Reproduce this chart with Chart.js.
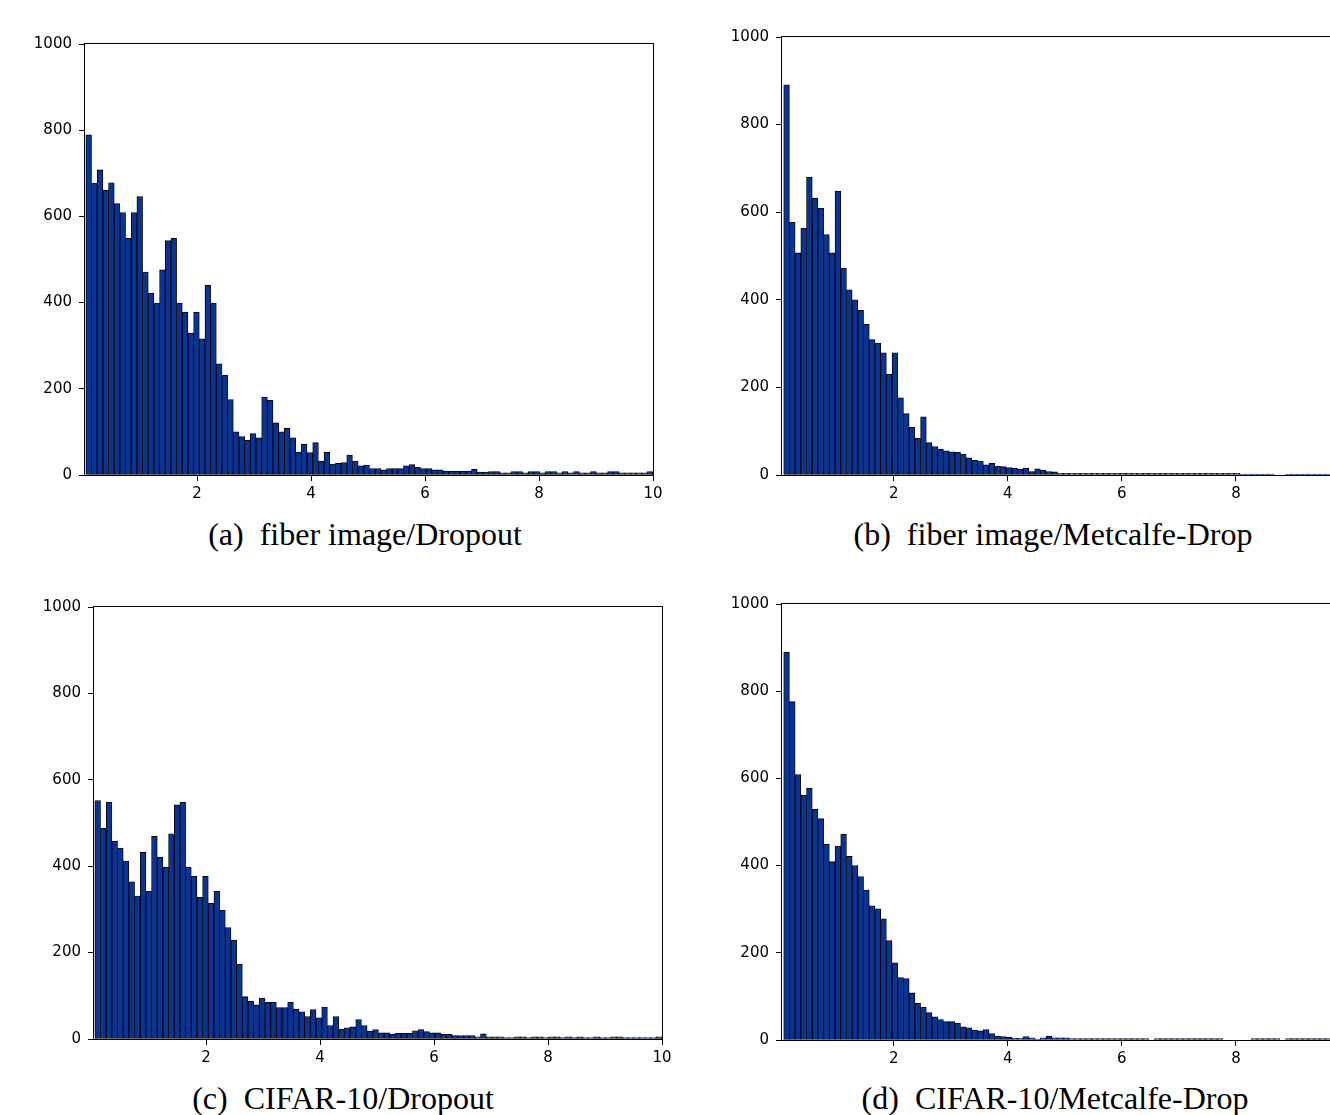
<!DOCTYPE html>
<html>
<head>
<meta charset="utf-8">
<script src="https://cdn.jsdelivr.net/npm/chart.js@4.4.1/dist/chart.umd.min.js"></script>
<style>
  html, body { margin: 0; padding: 0; background: #fff; overflow: hidden; }
  body { width: 1330px; height: 1115px; position: relative; }
  canvas { position: absolute; }
  .caption {
    position: absolute; width: 600px; text-align: center;
    font-family: "Liberation Serif", "Times New Roman", serif;
    font-size: 32px; line-height: 32px; color: #000; white-space: pre;
  }
</style>
</head>
<body>
<div class="caption" style="left:65px; top:518px;">(a)  fiber image/Dropout</div>
<div class="caption" style="left:753px; top:518px;">(b)  fiber image/Metcalfe-Drop</div>
<div class="caption" style="left:43px; top:1082px;">(c)  CIFAR-10/Dropout</div>
<div class="caption" style="left:755px; top:1082px;">(d)  CIFAR-10/Metcalfe-Drop</div>
<script>
// histogram counts, 100 bins each
const fiberDropout = [
  789, 677, 708, 661, 678, 630, 609, 549, 609, 646,
  471, 422, 399, 476, 544, 549, 399, 378, 329, 378,
  316, 440, 399, 258, 231, 175, 100, 89, 81, 96,
  86, 181, 173, 121, 100, 108, 86, 53, 71, 52,
  75, 32, 53, 25, 27, 29, 46, 32, 21, 23,
  15, 15, 12, 15, 15, 15, 21, 24, 18, 15,
  15, 12, 12, 9, 9, 9, 9, 9, 13, 7,
  7, 8, 8, 5, 5, 8, 8, 5, 8, 8,
  5, 8, 8, 5, 8, 5, 8, 5, 5, 8,
  5, 5, 8, 8, 5, 5, 5, 5, 5, 8
];
const fiberMetcalfe = [
  891, 577, 507, 563, 680, 632, 609, 549, 507, 648,
  472, 423, 400, 376, 344, 309, 301, 279, 230, 279,
  176, 140, 109, 84, 133, 74, 65, 59, 55, 53,
  52, 48, 39, 34, 32, 23, 27, 20, 19, 17,
  15, 13, 16, 8, 14, 11, 8, 7, 4, 4,
  4, 4, 4, 4, 4, 4, 4, 4, 4, 4,
  4, 4, 4, 4, 4, 4, 4, 4, 4, 4,
  4, 4, 4, 4, 4, 4, 4, 4, 4, 4,
  2, 2, 2, 2, 2, 2, 0, 0, 2, 2,
  2, 2, 2, 2, 2, 2, 2, 2, 2, 2
];
const cifarDropout = [
  552, 488, 548, 458, 442, 412, 364, 331, 432, 342,
  469, 421, 398, 475, 542, 548, 398, 377, 328, 377,
  314, 342, 298, 258, 229, 173, 98, 87, 79, 95,
  85, 85, 73, 73, 85, 69, 63, 52, 68, 49,
  74, 31, 52, 23, 26, 28, 45, 31, 18, 22,
  14, 14, 11, 13, 13, 13, 19, 22, 17, 14,
  14, 11, 11, 8, 8, 8, 8, 5, 12, 5,
  5, 5, 3, 3, 5, 5, 3, 5, 5, 3,
  5, 5, 3, 5, 3, 5, 3, 3, 5, 3,
  3, 5, 5, 3, 3, 3, 3, 3, 3, 5
];
const cifarMetcalfe = [
  889, 776, 609, 562, 578, 529, 508, 449, 409, 445,
  472, 421, 400, 375, 344, 308, 301, 278, 228, 177,
  143, 141, 108, 84, 75, 63, 53, 47, 42, 42,
  38, 30, 28, 23, 21, 24, 15, 9, 8, 6,
  4, 4, 8, 5, 2, 5, 9, 5, 5, 5,
  3, 3, 3, 3, 3, 3, 3, 3, 3, 3,
  3, 3, 3, 3, 0, 3, 3, 3, 3, 3,
  3, 3, 3, 3, 3, 3, 3, 0, 0, 0,
  0, 0, 3, 3, 3, 3, 3, 0, 3, 3,
  3, 3, 3, 3, 3, 3, 3, 3, 3, 3
];
const xTicks = [2, 4, 6, 8, 10];
const yTicks = [0, 200, 400, 600, 800, 1000];

// draws the box around the plot area, like matplotlib spines
const framePlugin = {
  id: 'frame',
  afterDatasetsDraw(chart) {
    const a = chart.chartArea;
    const ctx = chart.ctx;
    ctx.save();
    ctx.strokeStyle = '#000';
    ctx.lineWidth = 1;
    ctx.strokeRect(Math.round(a.left) - 0.5, Math.round(a.top) - 0.5,
      Math.round(a.right - a.left) + 1, Math.round(a.bottom - a.top) + 1);
    ctx.restore();
  }
};

function makeHist(values, binStart, binWidth, xMin, box) {
  const canvas = document.createElement('canvas');
  const w = box.right + 20 - (box.left - 80);
  const h = box.bottom + 40 - (box.top - 13);
  canvas.width = w;
  canvas.height = h;
  canvas.style.left = (box.left - 80) + 'px';
  canvas.style.top = (box.top - 13) + 'px';
  canvas.style.width = w + 'px';
  canvas.style.height = h + 'px';
  document.body.appendChild(canvas);

  const tickFont = { family: 'DejaVu Sans', size: 15 };
  return new Chart(canvas.getContext('2d'), {
    type: 'bar',
    data: {
      datasets: [{
        data: values.map((v, i) => ({ x: binStart + (i + 0.5) * binWidth, y: v })),
        backgroundColor: '#0a3493',
        borderColor: '#000',
        borderWidth: 0.9,
        borderSkipped: false,
        barPercentage: 1,
        categoryPercentage: 1
      }]
    },
    options: {
      responsive: false,
      animation: false,
      devicePixelRatio: 1,
      layout: { padding: { top: 14, right: 20, left: 0, bottom: 0 } },
      plugins: { legend: { display: false }, tooltip: { enabled: false } },
      scales: {
        x: {
          type: 'linear',
          min: xMin,
          max: 10,
          offset: false,
          grid: { offset: false, drawOnChartArea: false, drawTicks: true, tickLength: 6, color: '#000' },
          border: { display: false },
          ticks: { font: tickFont, color: '#000', padding: 4, maxRotation: 0, callback: v => String(v) },
          afterBuildTicks: s => { s.ticks = xTicks.map(v => ({ value: v })); },
          afterFit: s => { s.height = 40; s.paddingLeft = 0; s.paddingRight = 0; }
        },
        y: {
          min: 0,
          max: 1000,
          grid: { drawOnChartArea: false, drawTicks: true, tickLength: 6, color: '#000' },
          border: { display: false },
          ticks: { font: tickFont, color: '#000', padding: 7, callback: v => String(v) },
          afterBuildTicks: s => { s.ticks = yTicks.map(v => ({ value: v })); },
          afterFit: s => { s.width = 80; s.paddingTop = 0; s.paddingBottom = 0; }
        }
      }
    },
    plugins: [framePlugin]
  });
}

makeHist(fiberDropout, 0.05, 0.0995, 0.035, { left: 85, top: 43, right: 653, bottom: 475 });
makeHist(fiberMetcalfe, 0.07, 0.1, 0.04, { left: 782, top: 36, right: 1350, bottom: 475 });
makeHist(cifarDropout, 0.05, 0.0995, 0.035, { left: 94, top: 606, right: 662, bottom: 1039 });
makeHist(cifarMetcalfe, 0.07, 0.1, 0.04, { left: 782, top: 603, right: 1350, bottom: 1040 });
</script>
</body>
</html>
